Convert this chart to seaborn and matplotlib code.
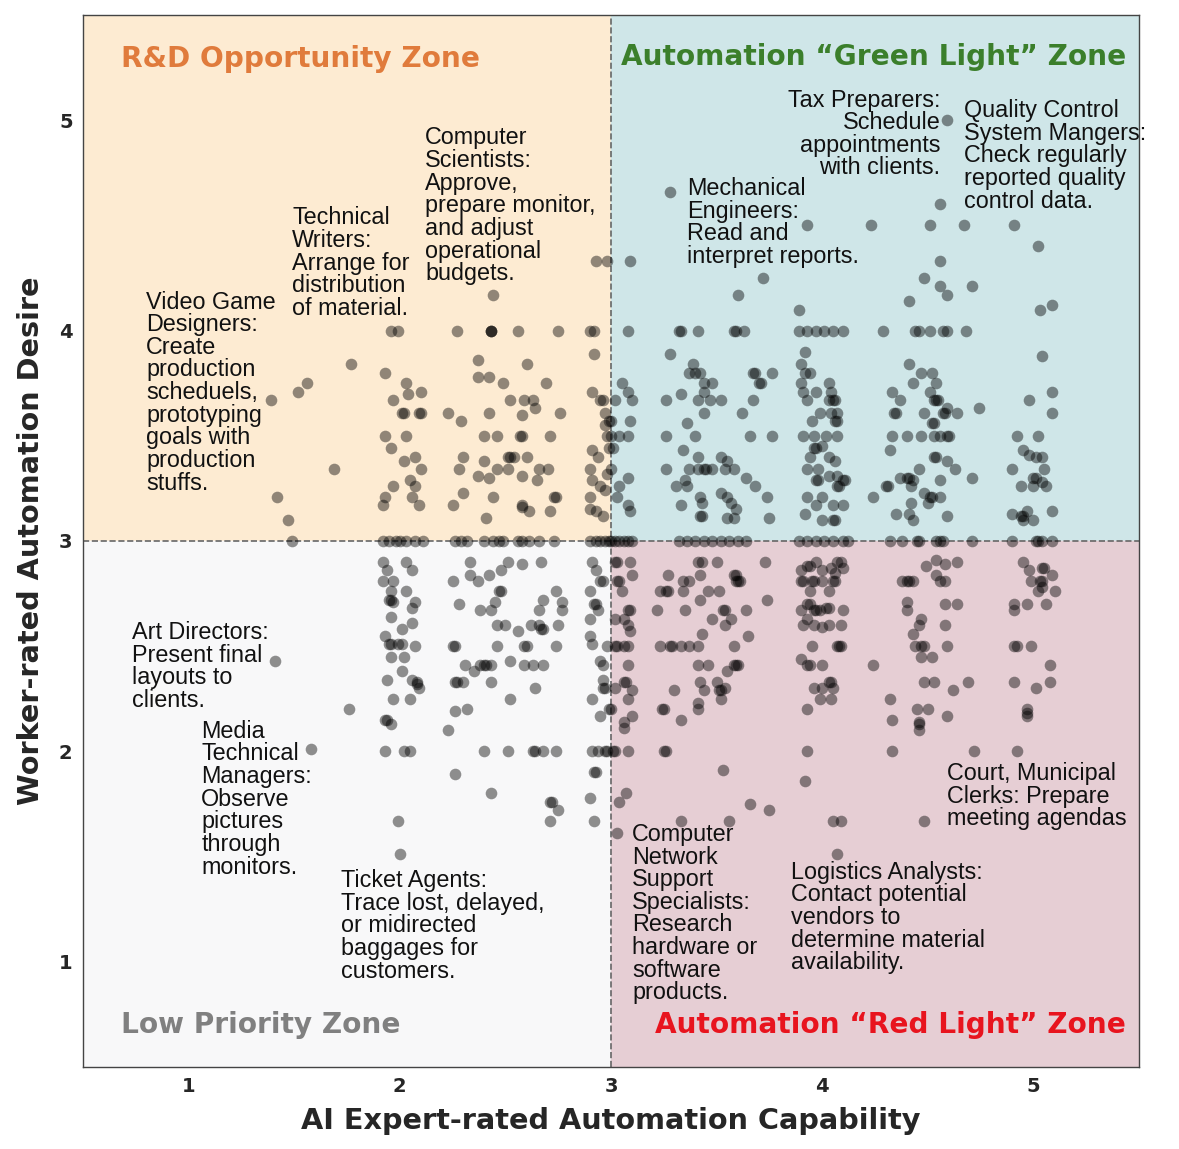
import matplotlib
matplotlib.use("Agg")
import pandas as pd
import matplotlib.pyplot as plt
import seaborn as sns
from matplotlib.patches import Rectangle

# (AI expert capability, worker desire) pairs, grouped by zone
rd_points = [
    (2.93, 4.33), (2.98, 4.33), (2.44, 4.17),
    (1.96, 4.0), (1.99, 4.0), (2.27, 4.0), (2.43, 4.0), (2.43, 4.0), (2.43, 4.0), (2.56, 4.0), (2.75, 4.0), (2.90, 4.0), (2.92, 4.0),
    (2.92, 3.89), (1.77, 3.84), (1.93, 3.80), (2.37, 3.86), (2.60, 3.84), (2.37, 3.78), (2.42, 3.78), (2.49, 3.75), (2.69, 3.75),
    (1.52, 3.71), (1.56, 3.75), (2.03, 3.75), (2.04, 3.70), (2.10, 3.71), (1.97, 3.67), (1.39, 3.67),
    (2.52, 3.67), (2.59, 3.67), (2.63, 3.67), (2.64, 3.63), (2.58, 3.60), (2.91, 3.71), (2.95, 3.67), (2.96, 3.67),
    (2.01, 3.61), (2.02, 3.61), (2.09, 3.61), (2.10, 3.61), (2.23, 3.61), (2.29, 3.57), (2.42, 3.61), (2.76, 3.61), (2.97, 3.61), (2.99, 3.57),
    (1.93, 3.50), (2.03, 3.50), (2.40, 3.50), (2.46, 3.50), (2.57, 3.50), (2.58, 3.50), (2.71, 3.50), (2.98, 3.50),
    (1.96, 3.44), (2.02, 3.38), (2.07, 3.40), (2.30, 3.40), (2.40, 3.38), (2.51, 3.40), (2.52, 3.40), (2.54, 3.40), (2.60, 3.40), (2.91, 3.43), (2.94, 3.40),
    (2.10, 3.34), (2.28, 3.34), (2.37, 3.31), (2.42, 3.30), (2.46, 3.34), (2.51, 3.34), (2.58, 3.31), (2.65, 3.29), (2.66, 3.34), (2.70, 3.34),
    (2.90, 3.34), (2.91, 3.29), (2.95, 3.26), (1.69, 3.34), (2.05, 3.29), (2.07, 3.26), (1.97, 3.26), (1.93, 3.21), (1.92, 3.17), (2.06, 3.21), (2.09, 3.17),
    (2.30, 3.23), (2.25, 3.17), (2.44, 3.21), (2.41, 3.11), (2.58, 3.17), (2.58, 3.16), (2.61, 3.14), (2.73, 3.21), (2.74, 3.21), (2.71, 3.14),
    (2.90, 3.21), (2.93, 3.14), (2.90, 3.15), (1.42, 3.21), (1.47, 3.10),
    (2.97, 3.55), (2.99, 3.44), (2.98, 3.32), (2.97, 3.24), (2.96, 3.12),
    (1.49, 3.0), (1.92, 3.0), (1.95, 3.0), (1.98, 3.0), (2.00, 3.0), (2.03, 3.0), (2.07, 3.0), (2.11, 3.0), (2.26, 3.0), (2.29, 3.0),
    (2.32, 3.0), (2.40, 3.0), (2.44, 3.0), (2.47, 3.0), (2.49, 3.0), (2.56, 3.0), (2.58, 3.0), (2.61, 3.0), (2.66, 3.0), (2.73, 3.0),
    (2.90, 3.0), (2.93, 3.0), (2.95, 3.0), (2.97, 3.0), (2.99, 3.0),
]

green_points = [
    (4.59, 5.0), (3.28, 4.66), (4.56, 4.60), (3.93, 4.5), (4.23, 4.5), (4.51, 4.5), (4.67, 4.5), (4.91, 4.5),
    (3.09, 4.33), (3.72, 4.25), (3.60, 4.17), (3.89, 4.10),
    (3.08, 4.0), (3.32, 4.0), (3.33, 4.0), (3.41, 4.0), (3.58, 4.0), (3.59, 4.0), (3.63, 4.0), (3.89, 4.0), (3.93, 4.0), (3.97, 4.0), (4.01, 4.0), (4.05, 4.0), (4.10, 4.0),
    (4.29, 4.0), (4.44, 4.0), (4.46, 4.0), (4.51, 4.0), (4.57, 4.0), (4.59, 4.0), (4.68, 4.0),
    (3.28, 3.89), (3.92, 3.90), (3.39, 3.84), (3.37, 3.80), (3.40, 3.80), (3.42, 3.80), (3.44, 3.75), (3.48, 3.75), (3.67, 3.80), (3.68, 3.80), (3.70, 3.75), (3.71, 3.75), (3.76, 3.80),
    (3.90, 3.84), (3.92, 3.80), (3.94, 3.80), (3.90, 3.75), (3.05, 3.75), (4.03, 3.75),
    (3.91, 3.71), (3.93, 3.67), (3.97, 3.71), (4.04, 3.71), (4.05, 3.67), (4.06, 3.67), (4.03, 3.67),
    (3.08, 3.71), (3.10, 3.67), (3.02, 3.67), (3.26, 3.67), (3.33, 3.70), (3.41, 3.67), (3.44, 3.71), (3.47, 3.67), (3.52, 3.67), (3.67, 3.67),
    (3.44, 3.61), (3.62, 3.61), (3.99, 3.61), (4.04, 3.61), (4.07, 3.61), (3.95, 3.57), (4.06, 3.57), (4.07, 3.57), (3.09, 3.57), (3.00, 3.57), (3.36, 3.56),
    (3.00, 3.50), (3.04, 3.50), (3.08, 3.50), (3.26, 3.50), (3.40, 3.50), (3.66, 3.50), (3.76, 3.50), (3.91, 3.50), (3.96, 3.50), (4.02, 3.50), (4.07, 3.50),
    (3.34, 3.43), (3.41, 3.40), (3.52, 3.40), (3.55, 3.38), (3.58, 3.34), (3.96, 3.44), (3.97, 3.44), (3.94, 3.40), (4.00, 3.45), (4.03, 3.40), (4.06, 3.38),
    (3.01, 3.44), (3.00, 3.34), (3.26, 3.34), (3.37, 3.34), (3.41, 3.34), (3.44, 3.34), (3.45, 3.34), (3.48, 3.34), (3.54, 3.34),
    (3.93, 3.34), (3.98, 3.34), (3.97, 3.29), (3.98, 3.29), (4.03, 3.31), (4.07, 3.31), (4.10, 3.29), (4.11, 3.29), (4.07, 3.26), (4.08, 3.26), (3.08, 3.30), (3.64, 3.30),
    (3.31, 3.26), (3.36, 3.26), (3.35, 3.29), (3.52, 3.23), (3.55, 3.21), (3.57, 3.18), (3.68, 3.26), (3.04, 3.26), (3.03, 3.21),
    (3.93, 3.21), (4.00, 3.21), (3.97, 3.17), (4.05, 3.17), (4.10, 3.17), (3.74, 3.21), (3.42, 3.21), (3.43, 3.18), (3.33, 3.17), (3.08, 3.17), (3.09, 3.14), (3.59, 3.15), (3.58, 3.11),
    (3.42, 3.12), (3.43, 3.12), (3.55, 3.11), (3.75, 3.11), (3.92, 3.13), (4.00, 3.10), (4.05, 3.10), (4.06, 3.10),
    (3.00, 3.0), (3.02, 3.0), (3.04, 3.0), (3.06, 3.0), (3.08, 3.0), (3.10, 3.0), (3.32, 3.0), (3.36, 3.0), (3.40, 3.0), (3.44, 3.0), (3.48, 3.0),
    (3.52, 3.0), (3.56, 3.0), (3.60, 3.0), (3.64, 3.0), (3.89, 3.0), (3.93, 3.0), (3.97, 3.0), (4.01, 3.0), (4.05, 3.0), (4.10, 3.0), (4.12, 3.0),
    (5.02, 4.40), (4.56, 4.33), (4.48, 4.25), (4.56, 4.21), (4.59, 4.17), (4.71, 4.21), (4.41, 4.14), (5.03, 4.10), (5.09, 4.12), (5.04, 3.88),
    (4.41, 3.84), (4.47, 3.80), (4.52, 3.80), (4.43, 3.75), (4.54, 3.75), (4.33, 3.71), (4.37, 3.67), (4.51, 3.71), (4.53, 3.67), (4.54, 3.67), (4.55, 3.67), (5.09, 3.71), (4.98, 3.67),
    (4.34, 3.61), (4.35, 3.61), (4.48, 3.61), (4.57, 3.61), (4.58, 3.61), (4.64, 3.61), (4.59, 3.63), (4.74, 3.63), (5.09, 3.61), (4.52, 3.56), (4.53, 3.56),
    (4.33, 3.50), (4.40, 3.50), (4.47, 3.50), (4.53, 3.50), (4.56, 3.50), (4.59, 3.50), (4.60, 3.50), (4.92, 3.50), (5.02, 3.50),
    (4.32, 3.43), (4.53, 3.40), (4.54, 3.40), (4.59, 3.38), (4.95, 3.43), (4.98, 3.41), (5.01, 3.40), (5.04, 3.40), (4.63, 3.34), (4.46, 3.34), (4.90, 3.34), (5.05, 3.34),
    (4.37, 3.30), (4.40, 3.30), (4.41, 3.30), (4.43, 3.29), (4.71, 3.30), (4.56, 3.29), (5.00, 3.30), (5.01, 3.30), (5.04, 3.28), (4.30, 3.26), (4.31, 3.26), (4.42, 3.26),
    (4.94, 3.26), (5.00, 3.26), (5.06, 3.26), (4.24, 3.21), (4.48, 3.23), (4.51, 3.21), (4.52, 3.21), (4.56, 3.21), (4.50, 3.18), (4.42, 3.18),
    (4.35, 3.13), (4.41, 3.13), (4.43, 3.10), (4.59, 3.12), (4.90, 3.13), (4.94, 3.12), (4.95, 3.12), (4.97, 3.14), (5.00, 3.10), (4.95, 3.10), (5.09, 3.14),
    (4.32, 3.0), (4.38, 3.0), (4.45, 3.0), (4.46, 3.0), (4.54, 3.0), (4.56, 3.0), (4.57, 3.0), (4.71, 3.0), (4.90, 3.0), (5.01, 3.0), (5.02, 3.0), (5.04, 3.0), (5.09, 3.0),
]

low_points = [
    (1.92, 2.90), (1.94, 2.86), (1.92, 2.81), (1.97, 2.81), (1.96, 2.76), (1.95, 2.72), (1.96, 2.72), (1.97, 2.71),
    (2.03, 2.90), (2.06, 2.86), (2.03, 2.76), (2.07, 2.71), (2.06, 2.68), (2.06, 2.61), (1.96, 2.64), (2.01, 2.58),
    (1.93, 2.55), (1.95, 2.51), (1.96, 2.51), (1.99, 2.51), (2.01, 2.51), (2.07, 2.50), (1.96, 2.45), (2.02, 2.45), (2.01, 2.38),
    (1.94, 2.34), (2.06, 2.34), (2.08, 2.33), (2.08, 2.32), (2.09, 2.30), (1.97, 2.25), (2.05, 2.25), (1.76, 2.20), (1.93, 2.15), (1.94, 2.15), (1.96, 2.13),
    (1.41, 2.43), (1.58, 2.01), (1.93, 2.0), (2.02, 2.0), (2.05, 2.0), (1.99, 1.67), (2.00, 1.51),
    (2.25, 2.81), (2.33, 2.90), (2.33, 2.84), (2.37, 2.81), (2.42, 2.84), (2.48, 2.86), (2.51, 2.90), (2.58, 2.89), (2.67, 2.90),
    (2.47, 2.76), (2.48, 2.76), (2.28, 2.70), (2.38, 2.67), (2.43, 2.67), (2.45, 2.71), (2.68, 2.72), (2.66, 2.67), (2.74, 2.76), (2.77, 2.71), (2.77, 2.67),
    (2.46, 2.60), (2.50, 2.60), (2.56, 2.57), (2.62, 2.60), (2.66, 2.60), (2.68, 2.58), (2.67, 2.58), (2.75, 2.60),
    (2.25, 2.50), (2.26, 2.50), (2.46, 2.50), (2.59, 2.50), (2.60, 2.50), (2.74, 2.50),
    (2.31, 2.41), (2.35, 2.38), (2.38, 2.41), (2.40, 2.41), (2.41, 2.41), (2.43, 2.41), (2.52, 2.43), (2.59, 2.41), (2.63, 2.41), (2.68, 2.41),
    (2.26, 2.33), (2.27, 2.33), (2.30, 2.33), (2.43, 2.33), (2.64, 2.30), (2.52, 2.25), (2.26, 2.19), (2.32, 2.20), (2.23, 2.10),
    (2.40, 2.0), (2.51, 2.0), (2.63, 2.0), (2.64, 2.0), (2.68, 2.0), (2.74, 2.0), (2.26, 1.89), (2.43, 1.80), (2.71, 1.76), (2.72, 1.76), (2.75, 1.72), (2.71, 1.67),
    (2.91, 2.90), (2.93, 2.86), (2.95, 2.81), (2.96, 2.81), (2.90, 2.76), (2.92, 2.70), (2.93, 2.70), (2.94, 2.67), (2.90, 2.63), (2.90, 2.55), (2.91, 2.51), (2.98, 2.50),
    (2.95, 2.43), (2.96, 2.41), (2.96, 2.34), (2.96, 2.30), (2.97, 2.30), (2.91, 2.25), (2.95, 2.17), (2.99, 2.20),
    (2.91, 2.0), (2.94, 2.0), (2.97, 2.0), (2.98, 2.0), (2.92, 1.90), (2.93, 1.90), (2.90, 1.78), (2.92, 1.67),
]

red_points = [
    (3.02, 2.90), (3.03, 2.90), (3.09, 2.90), (3.03, 2.81), (3.04, 2.81), (3.05, 2.76), (3.10, 2.84),
    (3.08, 2.67), (3.09, 2.67), (3.06, 2.63), (3.08, 2.60), (3.02, 2.63), (3.09, 2.57),
    (3.02, 2.50), (3.03, 2.50), (3.06, 2.50), (3.08, 2.50),
    (3.08, 2.41), (3.06, 2.33), (3.07, 2.33), (3.10, 2.29), (3.02, 2.30), (3.08, 2.25), (3.00, 2.20), (3.10, 2.17), (3.06, 2.14), (3.06, 2.11),
    (3.01, 2.0), (3.02, 2.0), (3.08, 2.0), (3.07, 1.80), (3.04, 1.76), (3.03, 1.61),
    (3.27, 2.84), (3.34, 2.81), (3.37, 2.81), (3.42, 2.84), (3.41, 2.90), (3.43, 2.90), (3.50, 2.90),
    (3.58, 2.84), (3.59, 2.84), (3.59, 2.81), (3.60, 2.81), (3.61, 2.81), (3.73, 2.90),
    (3.23, 2.76), (3.26, 2.76), (3.27, 2.76), (3.34, 2.76), (3.42, 2.72), (3.46, 2.76), (3.51, 2.76), (3.74, 2.72),
    (3.22, 2.67), (3.35, 2.67), (3.48, 2.63), (3.53, 2.67), (3.54, 2.67), (3.57, 2.63), (3.54, 2.60), (3.64, 2.67), (3.43, 2.56), (3.65, 2.55),
    (3.23, 2.50), (3.28, 2.50), (3.29, 2.50), (3.33, 2.50), (3.37, 2.50), (3.41, 2.50), (3.58, 2.50),
    (3.41, 2.41), (3.46, 2.41), (3.55, 2.38), (3.58, 2.41), (3.59, 2.41), (3.60, 2.41),
    (3.42, 2.33), (3.50, 2.33), (3.51, 2.29), (3.52, 2.29), (3.54, 2.30), (3.44, 2.29), (3.52, 2.25), (3.30, 2.29), (3.24, 2.20), (3.25, 2.20), (3.41, 2.23), (3.41, 2.20), (3.33, 2.15),
    (3.25, 2.0), (3.26, 2.0), (3.53, 1.91), (3.66, 1.75), (3.75, 1.72), (3.33, 1.67), (3.56, 1.67),
    (3.90, 2.86), (3.93, 2.88), (3.94, 2.88), (3.97, 2.90), (4.00, 2.86), (4.04, 2.87), (4.07, 2.90), (4.09, 2.90), (4.10, 2.87), (4.06, 2.85),
    (3.90, 2.81), (3.91, 2.81), (3.95, 2.81), (3.96, 2.81), (4.00, 2.81), (4.05, 2.81), (4.06, 2.81), (3.94, 2.76), (4.03, 2.76),
    (3.93, 2.70), (3.94, 2.70), (3.96, 2.67), (3.97, 2.67), (3.99, 2.67), (3.90, 2.67), (4.02, 2.68), (4.03, 2.68), (4.10, 2.67),
    (3.91, 2.60), (3.96, 2.60), (4.00, 2.59), (4.03, 2.60), (4.09, 2.60), (3.93, 2.63),
    (3.95, 2.50), (4.07, 2.50), (4.08, 2.50), (4.09, 2.50), (3.90, 2.44), (3.93, 2.41), (3.94, 2.41), (4.00, 2.41),
    (4.03, 2.33), (4.04, 2.33), (3.96, 2.30), (4.00, 2.30), (4.05, 2.30), (3.99, 2.25), (4.04, 2.25), (3.93, 2.20), (3.93, 2.0), (3.92, 1.86), (4.05, 1.67), (4.09, 1.67), (4.07, 1.51),
    (4.49, 2.88), (4.54, 2.91), (4.58, 2.89), (4.64, 2.90), (4.54, 2.84), (4.56, 2.81), (4.58, 2.81), (4.38, 2.81), (4.40, 2.81), (4.41, 2.81), (4.43, 2.81),
    (4.40, 2.71), (4.40, 2.67), (4.58, 2.70), (4.64, 2.70), (4.47, 2.63), (4.46, 2.60), (4.43, 2.56), (4.44, 2.50), (4.47, 2.50), (4.48, 2.50), (4.47, 2.45), (4.52, 2.45),
    (4.58, 2.60), (4.59, 2.50), (4.24, 2.41), (4.48, 2.33), (4.53, 2.33), (4.62, 2.29), (4.69, 2.33), (4.32, 2.25), (4.45, 2.20), (4.50, 2.20), (4.59, 2.17), (4.33, 2.15),
    (4.46, 2.14), (4.46, 2.13), (4.46, 2.10), (4.33, 2.0), (4.72, 2.0), (4.92, 2.0), (4.48, 1.67),
    (4.95, 2.90), (4.98, 2.86), (5.04, 2.87), (5.05, 2.87), (5.09, 2.84), (4.99, 2.81), (5.03, 2.81), (5.04, 2.81), (5.04, 2.78), (5.02, 2.76), (5.10, 2.76), (5.06, 2.70),
    (4.91, 2.70), (4.97, 2.70), (4.91, 2.67), (4.91, 2.50), (4.92, 2.50), (4.99, 2.50), (5.08, 2.41), (5.08, 2.33), (5.01, 2.30), (4.91, 2.33), (4.97, 2.20), (4.97, 2.18), (4.97, 2.17),
]

# highlighted occupation/task notes: (x, y, text, alignment)
notes = [
    (0.80, 4.19, "Video Game\nDesigners:\nCreate\nproduction\nscheduels,\nprototyping\ngoals with\nproduction\nstuffs.", "left"),
    (1.49, 4.59, "Technical\nWriters:\nArrange for\ndistribution\nof material.", "left"),
    (2.12, 4.97, "Computer\nScientists:\nApprove,\nprepare monitor,\nand adjust\noperational\nbudgets.", "left"),
    (3.36, 4.73, "Mechanical\nEngineers:\nRead and\ninterpret reports.", "left"),
    (4.56, 5.15, "Tax Preparers:\nSchedule\nappointments\nwith clients.", "right"),
    (4.67, 5.10, "Quality Control\nSystem Mangers:\nCheck regularly\nreported quality\ncontrol data.", "left"),
    (0.73, 2.62, "Art Directors:\nPresent final\nlayouts to\nclients.", "left"),
    (1.06, 2.15, "Media\nTechnical\nManagers:\nObserve\npictures\nthrough\nmonitors.", "left"),
    (1.72, 1.44, "Ticket Agents:\nTrace lost, delayed,\nor midirected\nbaggages for\ncustomers.", "left"),
    (3.10, 1.66, "Computer\nNetwork\nSupport\nSpecialists:\nResearch\nhardware or\nsoftware\nproducts.", "left"),
    (3.85, 1.48, "Logistics Analysts:\nContact potential\nvendors to\ndetermine material\navailability.", "left"),
    (4.59, 1.95, "Court, Municipal\nClerks: Prepare\nmeeting agendas", "left"),
]

rows = []
for pts in [rd_points, green_points, low_points, red_points]:
    for cx, cy in pts:
        rows.append({"capability": cx, "desire": cy})
df = pd.DataFrame(rows)
print(len(df))

sns.set_style("white")
plt.rcParams["font.family"] = ["DejaVu Sans"]

fig = plt.figure(figsize=(11.79, 11.49), dpi=100)
ax = fig.add_axes([0.0704, 0.0714, 0.8957, 0.9156])

# quadrant backgrounds
ax.add_patch(Rectangle((0.5, 3), 2.5, 2.5, color="#FDEBD2", zorder=0))
ax.add_patch(Rectangle((3, 3), 2.5, 2.5, color="#CFE6E8", zorder=0))
ax.add_patch(Rectangle((0.5, 0.5), 2.5, 2.5, color="#F8F8F9", zorder=0))
ax.add_patch(Rectangle((3, 0.5), 2.5, 2.5, color="#E6CED4", zorder=0))

ax.axvline(3, color="#666666", ls="--", lw=1.2, zorder=1)
ax.axhline(3, color="#666666", ls="--", lw=1.2, zorder=1)

sns.scatterplot(data=df, x="capability", y="desire", color="black", alpha=0.43,
                s=70, linewidth=0, ax=ax, zorder=3)

ax.set_xlim(0.5, 5.5)
ax.set_ylim(0.5, 5.5)
ax.set_xticks([1, 2, 3, 4, 5])
ax.set_yticks([1, 2, 3, 4, 5])
ax.tick_params(axis="both", labelsize=14, length=4, width=0.8, color="#444444", direction="out")
for lab in ax.get_xticklabels() + ax.get_yticklabels():
    lab.set_fontweight("bold")
ax.set_xlabel("AI Expert-rated Automation Capability", fontsize=20.7, fontweight="bold", labelpad=8)
ax.set_ylabel("Worker-rated Automation Desire", fontsize=20.7, fontweight="bold", labelpad=10)
for sp in ax.spines.values():
    sp.set_color("#444444")
    sp.set_linewidth(1.0)

# zone titles
ttl = 20.2
ax.text(0.68, 5.29, "R&D Opportunity Zone", color="#E07B3C", fontsize=ttl, fontweight="bold", va="center", ha="left")
ax.text(5.44, 5.30, "Automation \u201cGreen Light\u201d Zone", color="#3B7F2B", fontsize=ttl, fontweight="bold", va="center", ha="right")
ax.text(0.68, 0.70, "Low Priority Zone", color="#808080", fontsize=ttl, fontweight="bold", va="center", ha="left")
ax.text(5.44, 0.70, "Automation \u201cRed Light\u201d Zone", color="#E8141E", fontsize=ttl, fontweight="bold", va="center", ha="right")

for nx, ny, txt, al in notes:
    ax.text(nx, ny, txt, fontsize=16.8, family="Liberation Sans", ha=al, va="top",
            multialignment=al, linespacing=0.98, color="#111111", zorder=4)

fig.savefig("out.png", dpi=100)
